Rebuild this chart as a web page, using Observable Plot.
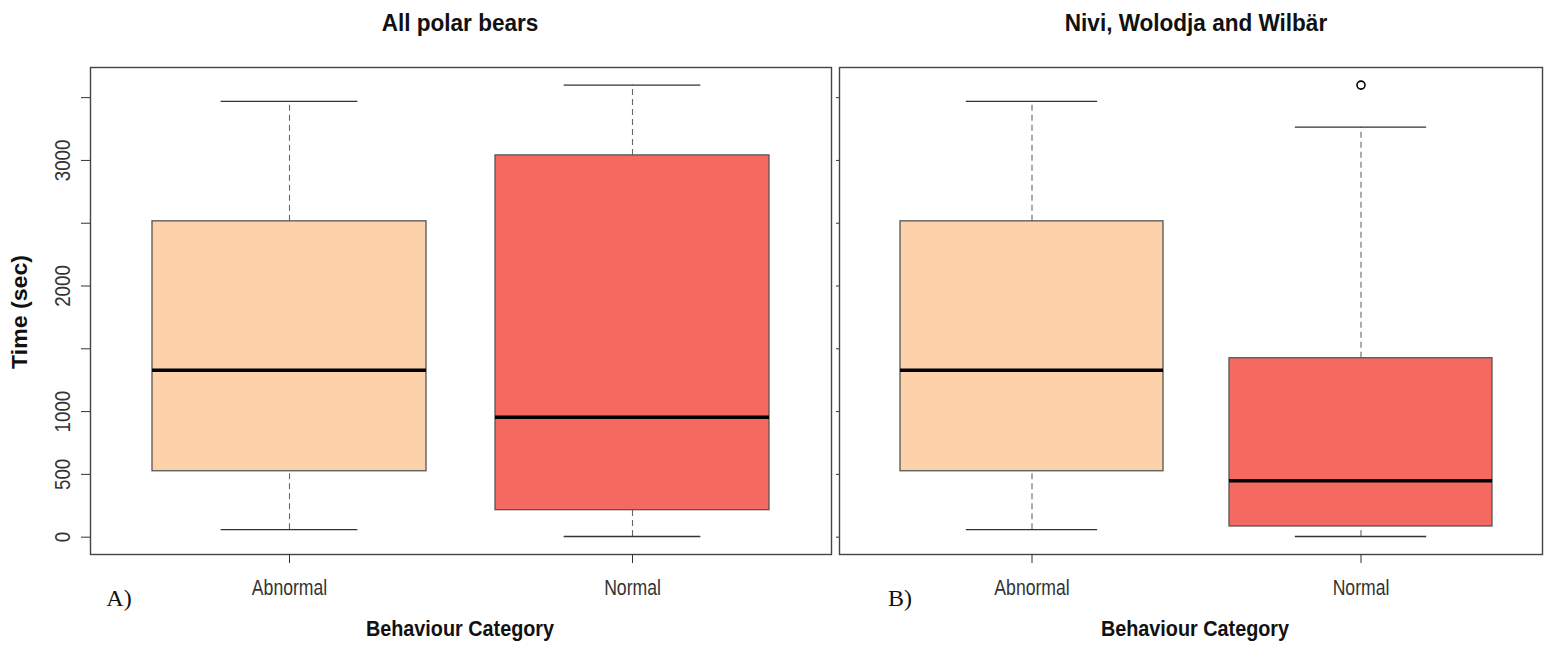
<!DOCTYPE html>
<html><head><meta charset="utf-8">
<script src="https://cdn.jsdelivr.net/npm/d3@7"></script>
<script src="https://cdn.jsdelivr.net/npm/@observablehq/plot@0.6"></script>
<style>
body{margin:0;background:#fff;}
#wrap{position:relative;width:1550px;height:646px;overflow:hidden;font-family:"Liberation Sans",Arial,sans-serif;color:#111;}
.lbl{position:absolute;white-space:nowrap;line-height:1;}
.title{font-weight:bold;font-size:23px;}
.axt{font-weight:bold;font-size:22px;}
.tag{font-family:"Liberation Serif","Times New Roman",serif;font-size:24px;}
</style></head><body><div id="wrap"></div>
<script>
const categories = ["Abnormal", "Normal"];
const panelTitles = ["All polar bears", "Nivi, Wolodja and Wilbär"];
const panelTags = ["A)", "B)"];
const xTitle = "Behaviour Category";
const yTitle = "Time (sec)";
const yTicks = [0, 500, 1000, 1500, 2000, 2500, 3000, 3500];
const yTickLabels = [0, 500, 1000, 2000, 3000];
const fills = ["#FDD1AA", "#F46A60"];

// Panel A: all polar bears
const aLow = [60, 5];
const aQ1 = [525, 215];
const aMedian = [1330, 955];
const aQ3 = [2515, 3040];
const aHigh = [3470, 3600];
const aOutliers = [];

// Panel B: Nivi, Wolodja and Wilbär
const bLow = [60, 5];
const bQ1 = [525, 85];
const bMedian = [1330, 450];
const bQ3 = [2515, 1425];
const bHigh = [3470, 3265];
const bOutlierCats = ["Normal"];
const bOutlierVals = [3600];

function rowsOf(low, q1, med, q3, high) {
  return categories.map((c, i) => ({category: c, low: low[i], q1: q1[i], median: med[i], q3: q3[i], high: high[i]}));
}

function panel({rows, outliers, width, marginLeft, marginRight, paddingOuter, align, labels, tickSize}) {
  const bw = d3.scaleBand().domain(categories)
    .range([marginLeft, width - marginRight])
    .paddingInner(0.2).paddingOuter(paddingOuter).align(align).bandwidth();
  const cap = bw / 4;
  return Plot.plot({
    width, height: 646,
    marginLeft, marginRight, marginTop: 67, marginBottom: 92,
    style: {fontFamily: "Liberation Sans, Arial, sans-serif", background: "transparent", overflow: "visible"},
    x: {type: "band", domain: categories, paddingInner: 0.2, paddingOuter, align},
    y: {domain: [-138, 3740]},
    color: {domain: categories, range: fills},
    marks: [
      Plot.ruleX(rows, {x: "category", y1: "q3", y2: "high", stroke: "#666", strokeWidth: 1.1, strokeDasharray: "6,4"}),
      Plot.ruleX(rows, {x: "category", y1: "low", y2: "q1", stroke: "#666", strokeWidth: 1.1, strokeDasharray: "6,4"}),
      Plot.tickY(rows, {x: "category", y: "high", stroke: "#333", strokeWidth: 1.4, insetLeft: cap, insetRight: cap}),
      Plot.tickY(rows, {x: "category", y: "low", stroke: "#333", strokeWidth: 1.4, insetLeft: cap, insetRight: cap}),
      Plot.barY(rows, {x: "category", y1: "q1", y2: "q3", fill: "category", stroke: "#555", strokeWidth: 1.3}),
      Plot.tickY(rows, {x: "category", y: "median", stroke: "#000", strokeWidth: 3.5}),
      Plot.dot(outliers, {x: "category", y: "value", r: 4, stroke: "#000", strokeWidth: 1.6, fill: "none"}),
      Plot.frame({stroke: "#444", strokeWidth: 1.4}),
      Plot.axisY({ticks: yTicks, tickSize, tickRotate: -90, tickPadding: 12, fontSize: 22, color: "#333", label: null,
        tickFormat: d => (labels && yTickLabels.includes(d)) ? String(d) : ""}),
      Plot.axisX({tickSize: 9, tickPadding: 16, fontSize: 22, color: "#333", label: null})
    ]
  });
}

function squeeze(svg, label, sx, sy) {
  svg.querySelectorAll(`g[aria-label="${label}"] text`).forEach(t => {
    const tr = t.getAttribute("transform");
    if (tr) {
      t.setAttribute("transform", tr + ` scale(${sx},${sy})`);
    } else {
      t.style.transformBox = "fill-box";
      t.style.transformOrigin = "center";
      t.style.transform = `scale(${sx},${sy})`;
    }
  });
}

const wrap = document.getElementById("wrap");
const rowsA = rowsOf(aLow, aQ1, aMedian, aQ3, aHigh);
const rowsB = rowsOf(bLow, bQ1, bMedian, bQ3, bHigh);
const outB = bOutlierCats.map((c, i) => ({category: c, value: bOutlierVals[i]}));

const pA = panel({rows: rowsA, outliers: aOutliers, width: 836, marginLeft: 90, marginRight: 5, paddingOuter: 0.179, align: 0.5, labels: true, tickSize: 9});
const pB = panel({rows: rowsB, outliers: outB, width: 714, marginLeft: 3, marginRight: 8, paddingOuter: 0.168, align: 0.55, labels: false, tickSize: 3});
for (const [svg, left] of [[pA, 0], [pB, 836]]) {
  squeeze(svg, "x-axis tick label", 0.8, 1);
  squeeze(svg, "y-axis tick label", 0.85, 1);
  svg.style.position = "absolute";
  svg.style.left = left + "px";
  svg.style.top = "0px";
  wrap.appendChild(svg);
}

function addText(text, cls, x, y, tf) {
  const d = document.createElement("div");
  d.className = "lbl " + cls;
  d.textContent = text;
  d.style.left = x + "px";
  d.style.top = y + "px";
  d.style.transform = "translate(-50%,-50%) " + (tf || "");
  wrap.appendChild(d);
}
addText(panelTitles[0], "title", 460, 23, "scaleX(0.98)");
addText(panelTitles[1], "title", 1196, 23, "scaleX(0.98)");
addText(xTitle, "axt", 460, 629, "scaleX(0.9)");
addText(xTitle, "axt", 1195, 629, "scaleX(0.9)");
addText(yTitle, "axt", 20, 312, "rotate(-90deg) scaleX(1.05)");
addText(panelTags[0], "tag", 119, 598);
addText(panelTags[1], "tag", 900, 598);
</script>
</body></html>
